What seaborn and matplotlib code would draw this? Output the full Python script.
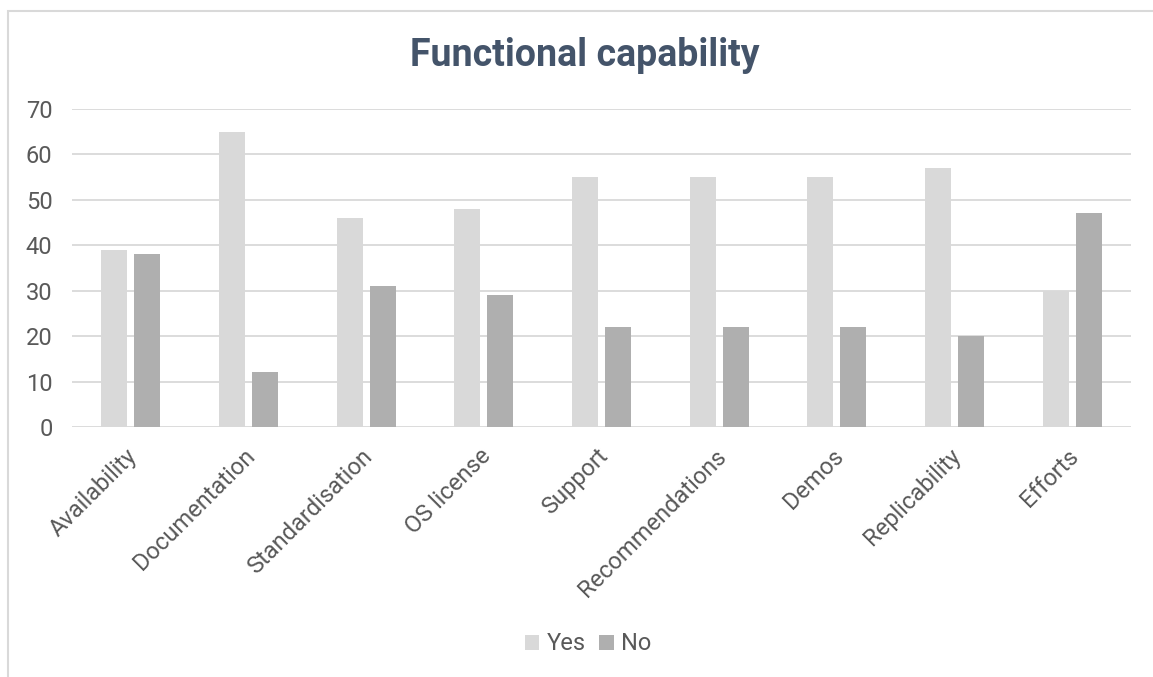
import matplotlib
matplotlib.use("Agg")
import matplotlib.pyplot as plt
import matplotlib.transforms as mtransforms
import pandas as pd
import seaborn as sns
from matplotlib.patches import Rectangle

categories = ["Availability", "Documentation", "Standardisation", "OS license",
              "Support", "Recommendations", "Demos", "Replicability", "Efforts"]
yes_values = [39, 65, 46, 48, 55, 55, 55, 57, 30]
no_values = [38, 12, 31, 29, 22, 22, 22, 20, 47]
series_names = ["Yes", "No"]
y_ticks = [0, 10, 20, 30, 40, 50, 60, 70]

df = pd.DataFrame({
    "category": categories * 2,
    "value": yes_values + no_values,
    "series": [series_names[0]] * len(categories) + [series_names[1]] * len(categories),
})

sns.set_theme(style="white")
plt.rcParams["font.family"] = ["Roboto", "DejaVu Sans"]

W, H = 1153, 677
fig = plt.figure(figsize=(W / 100, H / 100), dpi=100)
ax = fig.add_axes([72 / W, 1 - 427 / H, (1131 - 72) / W, (427 - 109) / H])

palette = {"Yes": "#D9D9D9", "No": "#AFAFAF"}
sns.barplot(data=df, x="category", y="value", hue="series", order=categories,
            hue_order=series_names, palette=palette, width=0.56, gap=0.21,
            saturation=1, linewidth=0, ax=ax, legend=False)

ax.set_ylim(0, 70)
ax.set_yticks(y_ticks)
ax.set_xlim(-0.5, len(categories) - 0.5)
ax.grid(axis="y", color="#D9D9D9", linewidth=1.3)
ax.set_axisbelow(True)
for s in ax.spines.values():
    s.set_visible(False)
ax.tick_params(axis="both", length=0, labelsize=17, colors="#595959")
ax.tick_params(axis="y", pad=14)
ax.tick_params(axis="x", pad=9)
shift = mtransforms.ScaledTranslation(-0.05, -0.05, fig.dpi_scale_trans)
for lbl in ax.get_xticklabels():
    lbl.set_rotation(45)
    lbl.set_ha("right")
    lbl.set_rotation_mode("anchor")
    lbl.set_transform(lbl.get_transform() + shift)
ax.set_xlabel("")
ax.set_ylabel("")

fig.text(0.507, 1 - 56 / H, "Functional capability", ha="center", va="center",
         fontsize=27, fontweight="bold", color="#44546A")

handles = [Rectangle((0, 0), 1, 1, facecolor=palette[n], edgecolor="none") for n in series_names]
fig.legend(handles, series_names, loc="center", bbox_to_anchor=(0.51, 1 - 644 / H),
           ncol=2, frameon=False, fontsize=17, labelcolor="#595959",
           handlelength=0.6, handleheight=0.6, handletextpad=0.3, columnspacing=0.6)

fig.patches.append(Rectangle((8 / W, -0.05), 1.1, 1 - 11 / H + 0.05,
                             transform=fig.transFigure, fill=False,
                             edgecolor="#D9D9D9", linewidth=1.5))

fig.savefig("out.png", dpi=100)
